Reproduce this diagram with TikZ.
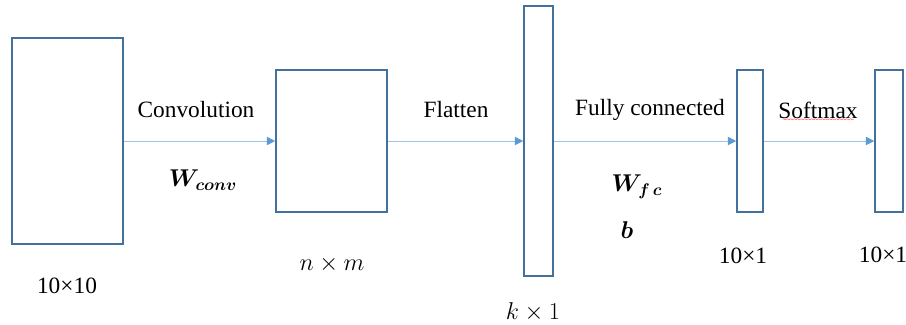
\documentclass[tikz,border=0pt]{standalone}
\usepackage{fontspec}
\setmainfont{Liberation Serif}
\usepackage{amsmath,bm}
\usepackage{tikz}
\usetikzlibrary{arrows.meta,positioning,decorations.pathmorphing}
\definecolor{boxblue}{RGB}{65,113,156}
\definecolor{arrblue}{RGB}{91,155,213}
\tikzset{font=\fontsize{16.6}{20}\selectfont}
\tikzstyle{layer}=[draw=boxblue,line width=1.1pt,fill=white,inner sep=0pt]

\begin{document}
\begin{tikzpicture}[x=0.025cm,y=-0.025cm]
\useasboundingbox (0,0) rectangle (906,324);
\node[layer,minimum width=111*0.025cm,minimum height=206*0.025cm] (A) at (67.5,141) {};
\node[layer,minimum width=111*0.025cm,minimum height=142*0.025cm] (B) at (331.5,141) {};
\node[layer,minimum width=29*0.025cm,minimum height=270*0.025cm] (C) at (538.5,141) {};
\node[layer,minimum width=26*0.025cm,minimum height=142*0.025cm] (D) at (750,141) {};
\node[layer,minimum width=28*0.025cm,minimum height=142*0.025cm] (E) at (889,141) {};
\node (convL) at (196,110) {Convolution};
\node (flatL) at (456,110) {Flatten};
\node (fcL) at (650,110) {Fully connected};
\node (softL) at (818,110) {Softmax};
\node (Wconv) at (203,180) {$\bm{W_{conv}}$};
\node (Wfc) at (637,187) {$\bm{W_{f\,c}}$};
\node (bL) at (627,230) {$\bm{b}$};
\node (dA) at (67,286) {10×10};
\node (dB) at (332,264) {$n\times m$};
\node (dC) at (533,312) {$k\times 1$};
\node (dD) at (743,256) {10×1};
\node (dE) at (883,255) {10×1};
\draw[red!70,line width=0.3pt,decorate,decoration={snake,amplitude=0.4pt,segment length=2.5pt}]
(softL.south west) ++(9,-4) -- ([xshift=-9*0.025cm,yshift=4*0.025cm]softL.south east);
\path[-{Triangle[length=6pt,width=6pt,color=arrblue]},draw=arrblue!60,line width=0.7pt]
(A) edge (B)
(B) edge (C)
(C) edge (D)
(D) edge (E);
\end{tikzpicture}
\end{document}
